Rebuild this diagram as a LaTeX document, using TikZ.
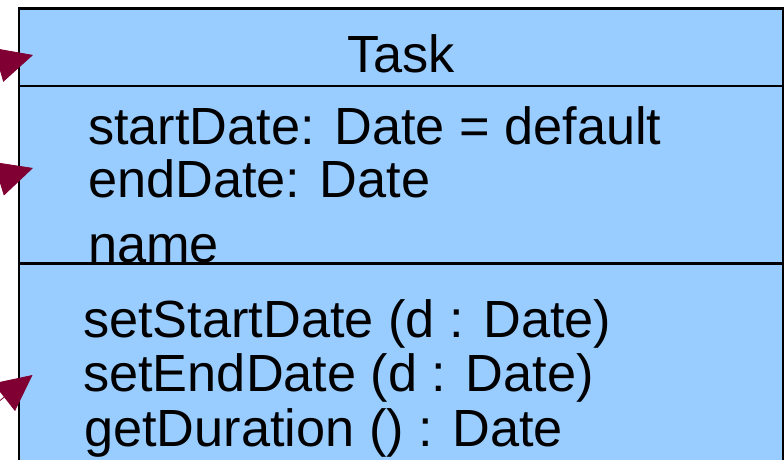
\documentclass[tikz,border=0pt]{standalone}
\usepackage{fontspec}
\setmainfont{Liberation Sans}
\usetikzlibrary{arrows.meta}
\definecolor{classblue}{RGB}{153,204,255}
\definecolor{linkred}{RGB}{128,0,51}
\begin{document}
\begin{tikzpicture}[x=1pt,y=-1pt,
  member/.style={anchor=base west,inner sep=0pt,font=\fontsize{52.3}{60}\selectfont},
  link/.style={linkred,line width=0.8pt,-{Triangle[length=36pt,width=35pt]}}]
\useasboundingbox (0,0) rectangle (784,460);
\clip (0,0) rectangle (784,460);
% class box with its three compartments
\draw[fill=classblue,line width=2.5pt] (19,8.5) rectangle (783,520);
\draw[line width=2.5pt] (19,86)--(783,86) (19,263.5)--(783,263.5);
\node[member,anchor=base] (name) at (401,73) {Task};
\node[member] (attr1) at (88,144) {startDate: Date = default};
\node[member] (attr2) at (88,197) {endDate: Date};
\node[member] (attr3) at (88,262) {name};
\node[member] (op1) at (83,337) {setStartDate (d : Date)};
\node[member] (op2) at (83,391) {setEndDate (d : Date)};
\node[member] (op3) at (84,446) {getDuration () : Date};
% incoming links
\coordinate (src1) at (-82,88);  \coordinate (tip1) at (33,55);
\coordinate (src2) at (-82,204); \coordinate (tip2) at (33,168);
\coordinate (src3) at (-62,449); \coordinate (tip3) at (32.5,375);
\draw[link] (src1)--(tip1);
\draw[link] (src2)--(tip2);
\draw[link] (src3)--(tip3);
\end{tikzpicture}
\end{document}
